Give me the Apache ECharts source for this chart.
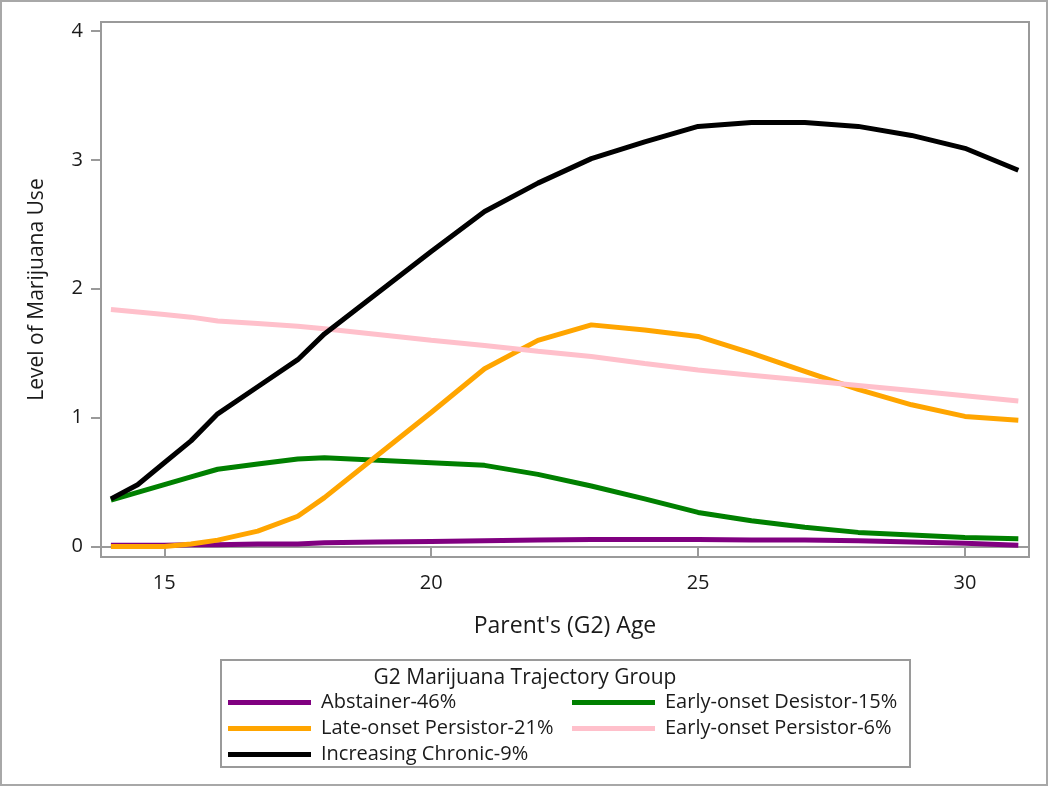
<!DOCTYPE html>
<html>
<head>
<meta charset="utf-8">
<script src="https://cdn.jsdelivr.net/npm/echarts@6/dist/echarts.min.js"></script>
<style>
html,body{margin:0;padding:0;background:#fff;}
#chart{width:1050px;height:787px;}
</style>
</head>
<body>
<div id="chart"></div>
<script>
// ---- data ----
const ages = [14, 14.5, 15, 15.5, 16, 16.75, 17.5, 18, 19, 20, 21, 22, 23, 24, 25, 26, 27, 28, 29, 30, 31];
const abstainer = [0.01, 0.01, 0.01, 0.015, 0.015, 0.02, 0.02, 0.03, 0.035, 0.04, 0.045, 0.05, 0.055, 0.055, 0.055, 0.05, 0.05, 0.045, 0.035, 0.025, 0.01];
const earlyDesistor = [0.36, 0.42, 0.48, 0.54, 0.60, 0.64, 0.68, 0.69, 0.67, 0.65, 0.63, 0.56, 0.47, 0.37, 0.265, 0.20, 0.15, 0.11, 0.09, 0.07, 0.06];
const lateOnset = [0, 0, 0, 0.02, 0.05, 0.12, 0.235, 0.38, 0.71, 1.04, 1.38, 1.60, 1.72, 1.68, 1.63, 1.50, 1.36, 1.22, 1.10, 1.01, 0.98];
const earlyPersistor = [1.84, 1.82, 1.80, 1.78, 1.75, 1.73, 1.71, 1.69, 1.645, 1.60, 1.56, 1.515, 1.475, 1.42, 1.37, 1.33, 1.29, 1.25, 1.21, 1.17, 1.13];
const increasingChronic = [0.37, 0.48, 0.65, 0.82, 1.03, 1.24, 1.45, 1.65, 1.97, 2.29, 2.60, 2.82, 3.01, 3.14, 3.26, 3.29, 3.29, 3.26, 3.19, 3.09, 2.92];
const xTicks = [15, 20, 25, 30];
const yTicks = [0, 1, 2, 3, 4];
const groupNames = ['Abstainer-46%', 'Early-onset Desistor-15%', 'Late-onset Persistor-21%', 'Early-onset Persistor-6%', 'Increasing Chronic-9%'];
const groupColors = ['#800080', '#008000', '#FFA500', '#FFC0CB', '#000000'];
const legendTitle = 'G2 Marijuana Trajectory Group';
const xTitle = "Parent's (G2) Age";
const yTitle = 'Level of Marijuana Use';

const seriesValues = [abstainer, earlyDesistor, lateOnset, earlyPersistor, increasingChronic];
const FONT = 'Open Sans';
const chart = echarts.init(document.getElementById('chart'));

const series = seriesValues.map((vals, i) => ({
  name: groupNames[i],
  type: 'line',
  data: ages.map((a, j) => [a, vals[j]]),
  symbol: 'none',
  smooth: false,
  lineStyle: { color: groupColors[i], width: 5 },
  itemStyle: { color: groupColors[i] },
  z: 2 + i
}));

const legendCommon = {
  orient: 'vertical',
  icon: 'rect',
  padding: 0,
  itemWidth: 83,
  itemHeight: 5,
  itemGap: 5,
  textStyle: { fontFamily: FONT, fontSize: 20, color: '#1a1a1a', lineHeight: 21, padding: [0, 0, 0, 5] },
  selectedMode: false
};

chart.setOption({
  animation: false,
  backgroundColor: '#fff',
  textStyle: { fontFamily: FONT },
  grid: {
    left: 101, right: 21, top: 22, bottom: 230,
    show: true, borderColor: '#9a9a9a', borderWidth: 2, backgroundColor: '#fff'
  },
  xAxis: {
    type: 'value',
    min: 13.814, max: 31.2,
    name: xTitle,
    nameLocation: 'middle',
    nameGap: 58,
    nameTextStyle: { fontFamily: FONT, fontSize: 23, color: '#1a1a1a' },
    axisLine: { show: true, lineStyle: { color: '#9a9a9a', width: 2 } },
    axisTick: { show: true, length: 10, lineStyle: { color: '#9a9a9a', width: 2 }, customValues: xTicks },
    axisLabel: { fontFamily: FONT, fontSize: 20, color: '#1a1a1a', margin: 16, customValues: xTicks },
    splitLine: { show: false }
  },
  yAxis: {
    type: 'value',
    min: -0.081, max: 4.07,
    name: yTitle,
    nameLocation: 'middle',
    nameGap: 53,
    nameRotate: 90,
    nameTextStyle: { fontFamily: FONT, fontSize: 21, color: '#1a1a1a' },
    axisLine: { show: true, lineStyle: { color: '#9a9a9a', width: 2 } },
    axisTick: { show: true, length: 10, lineStyle: { color: '#9a9a9a', width: 2 }, customValues: yTicks },
    axisLabel: { fontFamily: FONT, fontSize: 20, color: '#1a1a1a', margin: 18, customValues: yTicks },
    splitLine: { show: false }
  },
  legend: [
    Object.assign({}, legendCommon, { left: 228, top: 692, data: [groupNames[0], groupNames[2], groupNames[4]] }),
    Object.assign({}, legendCommon, { left: 572, top: 692, data: [groupNames[1], groupNames[3]] })
  ],
  graphic: [
    { type: 'rect', silent: true, z: -1, shape: { x: 1, y: 1, width: 1046, height: 784 }, style: { fill: 'none', stroke: '#a8a8a8', lineWidth: 2 } },
    { type: 'rect', silent: true, shape: { x: 221, y: 660, width: 689, height: 107 }, style: { fill: 'none', stroke: '#9a9a9a', lineWidth: 2 } },
    { type: 'text', silent: true, left: 'center', top: 668, style: { text: legendTitle, fontFamily: FONT, fontSize: 21, fill: '#1a1a1a' } }
  ],
  series: series
});
</script>
</body>
</html>
